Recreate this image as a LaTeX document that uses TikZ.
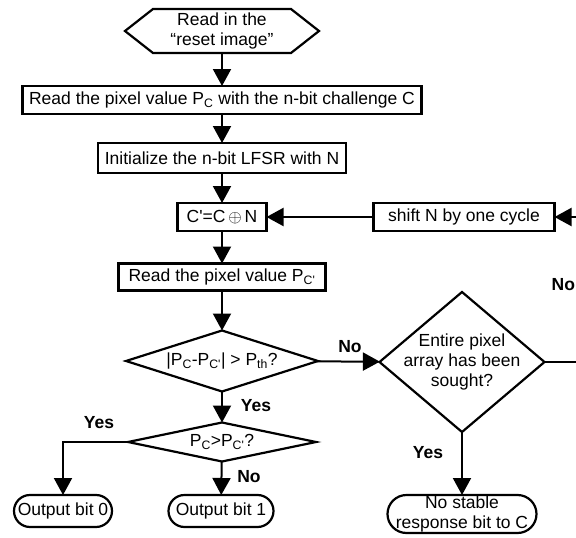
\documentclass[tikz,border=0pt]{standalone}
\usepackage{fontspec}
\setmainfont{Liberation Sans}
\usetikzlibrary{arrows.meta,shapes.geometric}

\begin{document}
\begin{tikzpicture}[x=1pt,y=-1pt]
    \tikzstyle{every node}+=[inner sep=0pt, outer sep=0pt, font=\fontsize{17.5}{20}\selectfont]
    \tikzstyle{box}=[draw, line width=2.2pt, rectangle, align=center]
    \tikzstyle{decision}=[draw, line width=2.2pt, diamond, align=center]
    \tikzstyle{terminal}=[draw, line width=2.2pt, rectangle, align=center]
    \tikzstyle{lbl}=[font=\fontsize{17.5}{20}\selectfont\bfseries]
    \tikzstyle{flow}=[line width=2pt, -{Triangle[width=18pt,length=17pt]}]
    \useasboundingbox (0,0) rectangle (576,538);
    \node (start) [minimum width=194, minimum height=44, align=center] at (222,31) {Read in the\\“reset image”};
    \draw [line width=2.2pt] (start.west) -- ([xshift=28pt]start.north west) -- ([xshift=-28pt]start.north east)
        -- (start.east) -- ([xshift=-28pt]start.south east) -- ([xshift=28pt]start.south west) -- cycle;
    \node (readc) [box, minimum width=399, minimum height=28] at (222,100) {Read the pixel value P\textsubscript{C} with the n-bit challenge C};
    \node (init) [box, minimum width=248, minimum height=30] at (222,158) {Initialize the n-bit LFSR with N};
    \node (xor) [box, minimum width=89, minimum height=28] at (222,217) {C\textquotesingle=C\,$\oplus$\,N};
    \node (shift) [box, minimum width=181, minimum height=28] at (464,217) {shift N by one cycle};
    \node (readp) [box, minimum width=207, minimum height=27] at (222,277) {Read the pixel value P\textsubscript{C\textquotesingle}};
    \node (diff) [decision, aspect=3.15, minimum width=192, minimum height=61] at (222,361) {|P\textsubscript{C}-P\textsubscript{C\textquotesingle}| > P\textsubscript{th}?};
    \node (sought) [decision, aspect=1.18, inner sep=-6pt, minimum width=165, minimum height=140] at (462,362) {Entire pixel\\array has been\\sought?};
    \node (cmp) [decision, aspect=4.8, minimum width=188, minimum height=39] at (222,442) {P\textsubscript{C}>P\textsubscript{C\textquotesingle}?};
    \node (out0) [terminal, rounded corners=16pt, minimum width=98, minimum height=32] at (63,511) {Output bit 0};
    \node (out1) [terminal, rounded corners=16pt, minimum width=105, minimum height=32] at (221,511) {Output bit 1};
    \node (nostable) [terminal, rounded corners=19pt, minimum width=149, minimum height=38] at (462,514) {No stable\\response bit to C};
    \draw [flow] (start) -- (readc);
    \draw [flow] (readc) -- (init);
    \draw [flow] (init) -- (xor);
    \draw [flow] (shift) -- (xor);
    \draw [flow] (xor) -- (readp);
    \draw [flow] (readp) -- (diff);
    \draw [flow] (diff) -- (sought);
    \node (no1) [lbl] at (350,347) {No};
    \draw [flow] (diff) -- (cmp);
    \node (yes1) [lbl] at (256,406) {Yes};
    \draw [flow] (cmp.west) -| (out0);
    \node (yes2) [lbl] at (99,423) {Yes};
    \draw [flow] (cmp) -- (out1);
    \node (no2) [lbl] at (249,477) {No};
    \draw [flow] (sought) -- (nostable);
    \node (yes3) [lbl] at (428,453) {Yes};
    \draw [flow] (sought.east) -- (600,362) -- (600,217) -- (shift.east);
    \node (no3) [lbl, anchor=east] at (575,285) {No};
\end{tikzpicture}
\end{document}
